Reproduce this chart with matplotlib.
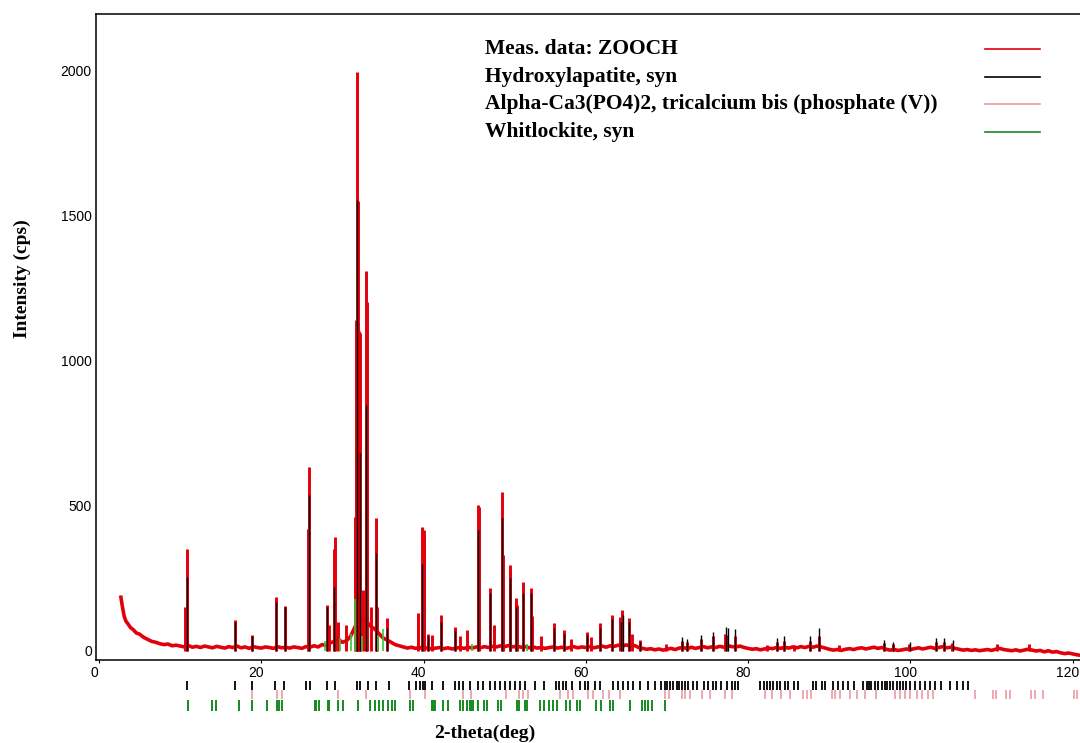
import matplotlib
matplotlib.use("Agg")
import matplotlib.pyplot as plt
import matplotlib.transforms as mtransforms
from matplotlib.lines import Line2D
import numpy as np

# ---------------------------------------------
# DATA
# ---------------------------------------------

# measured background trace, steep start below 10 deg
bg_start_x = [2.7, 2.9, 3.1, 3.3, 3.6, 3.9, 4.2, 4.6, 5.0, 5.5, 6.0, 6.5, 7.0, 7.5, 8.0, 8.5, 9.0, 9.5]
bg_start_y = [185, 150, 120, 104, 92, 80, 74, 62, 58, 47, 40, 33, 30, 25, 22, 24, 18, 20]

# measured background from 10 to 121 deg, every 0.5 deg
bg_step = 0.5
bg_y = [17, 14, 19, 13, 16, 12, 17, 14, 11, 16,
        13, 10, 15, 12, 17, 11, 14, 9, 15, 12,
        10, 14, 12, 9, 15, 11, 13, 10, 14, 12,
        9, 15, 13, 18, 14, 22, 19, 28, 33, 40,
        30, 35, 50, 80, 110, 110, 100, 85, 75, 60,
        45, 38, 30, 22, 18, 14, 10, 13, 9, 12,
        8, 11, 7, 10, 12, 8, 11, 7, 10, 12,
        9, 13, 10, 14, 11, 15, 12, 16, 14, 18,
        15, 19, 14, 17, 13, 15, 11, 14, 10, 12,
        9, 12, 14, 10, 13, 9, 12, 15, 11, 14,
        12, 15, 11, 14, 17, 13, 18, 16, 20, 17,
        21, 16, 19, 12, 9, 6, 8, 4, 7, 3,
        6, 9, 5, 10, 12, 8, 13, 9, 12, 15,
        11, 14, 12, 16, 13, 18, 15, 14, 17, 12,
        9, 6, 8, 4, 7, 10, 8, 12, 9, 13,
        10, 14, 11, 15, 12, 16, 13, 17, 14, 10,
        6, 3, 5, 2, 6, 8, 5, 9, 11, 7,
        10, 13, 9, 12, 6, 3, 5, 2, 4, 7,
        5, 8, 11, 7, 10, 13, 9, 12, 15, 11,
        13, 9, 6, 3, 5, 2, 4, 1, 3, 5,
        2, 6, 9, 5, 3, 1, 4, 0, 3, 6,
        3, 0, 2, -3, 1, -4, -2, -6, -9, -7,
        -10, -13, -15]

# measured peaks (red)
meas_peak_x = [10.65, 10.82, 16.8, 18.8, 21.8, 22.9, 25.75, 25.9, 28.1, 28.3,
               28.9, 29.05, 29.4, 30.5, 31.6, 31.72, 31.8, 31.87, 32.0, 32.2,
               32.5, 32.9, 33.0, 33.5, 34.1, 34.3, 35.5, 39.3, 39.85, 40.0,
               40.5, 41.0, 42.1, 43.9, 44.5, 45.4, 46.72, 46.86, 48.2, 48.7,
               49.7, 49.8, 50.6, 50.7, 51.4, 51.5, 52.2, 53.3, 53.4, 54.5,
               56.1, 57.3, 58.2, 60.2, 60.6, 61.8, 63.2, 64.2, 64.5, 65.3,
               65.7, 66.7, 69.9, 71.9, 72.5, 74.2, 75.7, 77.2, 77.4, 78.4,
               82.3, 83.6, 84.4, 85.7, 87.6, 88.7, 91.2, 96.7, 97.8, 99.8,
               103.1, 104.1, 105.1, 110.7, 114.6]
meas_peak_y = [150, 350, 105, 55, 187, 155, 420, 635, 158, 90,
               350, 394, 100, 90, 460, 1140, 1993, 1550, 1100, 1095,
               210, 1309, 1200, 150, 458, 150, 113, 131, 428, 416,
               60, 55, 124, 84, 50, 72, 503, 495, 217, 90,
               548, 330, 296, 280, 182, 160, 239, 217, 120, 50,
               96, 72, 40, 67, 47, 96, 124, 118, 141, 113,
               60, 38, 25, 35, 30, 40, 50, 60, 55, 50,
               20, 30, 35, 20, 35, 50, 20, 28, 24, 24,
               30, 32, 28, 25, 25]

# calculated Hydroxylapatite profile (black)
hap_calc_x = [10.82, 16.8, 18.8, 21.8, 22.9, 25.9, 28.1, 29.0, 31.8, 32.2,
              32.95, 34.1, 35.5, 39.85, 40.5, 42.1, 43.9, 46.75, 48.2, 49.7,
              50.6, 51.4, 52.2, 53.3, 56.1, 57.3, 60.2, 61.8, 63.2, 64.3,
              64.55, 65.3, 66.7, 71.9, 72.5, 74.2, 75.7, 77.3, 77.55, 78.4,
              83.6, 84.4, 87.6, 88.75, 96.8, 97.9, 99.9, 103.1, 104.2, 105.2]
hap_calc_y = [255, 100, 50, 170, 150, 537, 150, 221, 1553, 680,
              847, 337, 80, 300, 50, 100, 70, 416, 200, 458,
              250, 150, 200, 200, 80, 60, 55, 80, 110, 100,
              125, 100, 30, 48, 41, 55, 67, 84, 80, 76,
              45, 52, 52, 80, 38, 31, 31, 45, 45, 38]

# calculated Whitlockite profile (green)
wht_calc_x = [27.8, 29.7, 31.05, 31.55, 32.4, 34.4, 35.0, 46.0, 52.8]
wht_calc_y = [35, 45, 60, 180, 50, 55, 75, 25, 25]

# reference line positions (tick rows under the axis)
hap_ticks = [10.8, 16.8, 18.9, 21.7, 22.8, 25.5, 26.0, 28.1, 29.1, 31.8, 32.2, 33.1, 34.1, 35.7,
             38.2, 39.1, 39.6, 39.9, 40.2, 41.0, 42.4, 43.9, 44.4, 44.9, 45.7, 46.7, 47.3, 48.2,
             48.8, 49.4, 50.0, 50.6, 51.3, 51.9, 52.5, 53.7, 54.8, 56.3, 56.7, 57.2, 57.6, 58.3,
             59.3, 59.9, 60.3, 61.1, 61.7, 63.4, 64.0, 64.6, 65.2, 65.8, 66.7, 67.7, 68.5, 69.3,
             69.7, 70.0, 70.4, 70.8, 71.2, 71.5, 71.8, 72.2, 72.6, 73.2, 73.7, 74.5, 75.1, 75.7,
             76.1, 76.7, 77.4, 78.0, 78.4, 78.8, 81.5, 81.9, 82.3, 82.7, 83.1, 83.5, 83.9, 84.5,
             84.9, 85.6, 86.2, 88.0, 88.4, 89.1, 89.5, 90.5, 91.1, 91.7, 92.3, 93.0, 94.2, 94.6,
             94.9, 95.2, 95.6, 96.0, 96.5, 96.9, 97.1, 97.5, 97.9, 98.3, 98.7, 99.1, 99.5, 99.9,
             100.6, 101.2, 101.8, 102.4, 103.0, 103.8, 104.9, 105.7, 106.5, 107.1]
tcp_ticks = [18.9, 21.9, 22.5, 29.5, 32.9, 38.3, 40.2, 44.9, 45.9, 50.2, 51.8, 52.2, 52.9,
             56.8, 57.8, 58.4, 60.3, 60.9, 62.1, 62.8, 64.2, 69.7, 70.2, 71.8, 72.2, 72.8,
             74.3, 75.3, 77.1, 78.0, 82.1, 82.9, 84.1, 85.2, 86.8, 87.2, 87.8, 90.3, 90.7,
             91.3, 92.5, 93.4, 94.4, 95.8, 98.1, 98.7, 99.3, 99.9, 100.8, 101.4, 102.2,
             102.8, 107.9, 110.2, 110.6, 111.8, 112.3, 114.9, 115.3, 116.4, 120.1, 120.5]
wht_ticks = [11.0, 13.9, 14.4, 17.2, 18.9, 20.7, 21.9, 22.2, 22.5, 26.6, 26.8, 27.1, 28.2,
             28.3, 29.4, 30.1, 31.9, 33.4, 34.0, 34.5, 35.0, 35.6, 36.1, 36.5, 38.3, 38.7,
             41.0, 41.2, 41.4, 42.4, 43.0, 44.5, 44.9, 45.3, 45.7, 45.9, 46.1, 46.7, 47.4,
             47.8, 49.2, 49.6, 51.5, 51.7, 52.5, 52.7, 54.3, 54.8, 55.4, 56.0, 56.4, 57.6,
             58.0, 58.9, 59.3, 61.3, 61.9, 63.0, 63.4, 65.4, 66.9, 67.3, 67.7, 68.1, 69.7]

legend_labels = ["Meas. data: ZOOCH", "Hydroxylapatite, syn",
                 "Alpha-Ca3(PO4)2, tricalcium bis (phosphate (V))", "Whitlockite, syn"]

x_ticks = [0, 20, 40, 60, 80, 100, 120]
y_ticks = [0, 500, 1000, 1500, 2000]

# colours
RED = "#e2000b"
BLACK = "#000000"
PINK = "#eb9aa2"
GREEN = "#168a1e"
legend_colors = [RED, BLACK, PINK, GREEN]

# ---------------------------------------------
# PLOT
# ---------------------------------------------
W, H = 1080, 743
fig = plt.figure(figsize=(W / 100, H / 100), dpi=100)
ax = fig.add_axes([96 / W, 83 / H, 984 / W, 646 / H])

bg_x = np.concatenate([bg_start_x, 10 + bg_step * np.arange(len(bg_y))])
bg_all = np.concatenate([bg_start_y, bg_y])

ax.plot(bg_x, bg_all, color=RED, lw=2.6, zorder=2)
ax.vlines(meas_peak_x, 0, meas_peak_y, colors=RED, lw=2.1, zorder=3)
ax.vlines(hap_calc_x, 0, hap_calc_y, colors=BLACK, lw=1.0, zorder=4)
ax.vlines(wht_calc_x, 0, wht_calc_y, colors="#3cc23c", lw=1.2, zorder=5)

# reference tick rows under the axis
xt = ax.get_xaxis_transform()
ax.vlines(hap_ticks, -0.0325, -0.0464, transform=xt, clip_on=False, colors=BLACK, lw=1.3)
ax.vlines(tcp_ticks, -0.0464, -0.0604, transform=xt, clip_on=False, colors=PINK, lw=1.2)
ax.vlines(wht_ticks, -0.0619, -0.079, transform=xt, clip_on=False, colors=GREEN, lw=1.4)

ax.set_xlim(-0.37, 120.9)
ax.set_ylim(-31, 2193)
ax.set_xticks(x_ticks)
ax.set_yticks(y_ticks)
ax.tick_params(axis="x", length=2, width=0.8, pad=2, labelsize=10)
ax.tick_params(axis="y", length=0, pad=3, labelsize=10)
for lab in ax.get_xticklabels() + ax.get_yticklabels():
    lab.set_family("Liberation Sans")
shift = mtransforms.ScaledTranslation(-5 / 100, 0, fig.dpi_scale_trans)
for lab in ax.get_xticklabels():
    lab.set_transform(lab.get_transform() + shift)

ax.spines["right"].set_visible(False)
for s in ["left", "top", "bottom"]:
    ax.spines[s].set_linewidth(1.1)

# axis titles
fig.text(22 / W, 1 - 279 / H, "Intensity (cps)", rotation=90, ha="center", va="center",
         family="Liberation Serif", weight="bold", size=14)
fig.text(485 / W, 1 - 733 / H, "2-theta(deg)", ha="center", va="center",
         family="Liberation Serif", weight="bold", size=14)

# legend: text left, sample line right
for i, (label, color) in enumerate(zip(legend_labels, legend_colors)):
    yy = 1 - (49 + 27.7 * i) / H
    fig.text(485 / W, yy, label, ha="left", va="center", family="Liberation Serif",
             weight="bold", size=15.5)
    fig.add_artist(Line2D([985 / W, 1040 / W], [yy, yy], color=color, lw=1.2,
                          transform=fig.transFigure))

fig.savefig("out.png", dpi=100)
